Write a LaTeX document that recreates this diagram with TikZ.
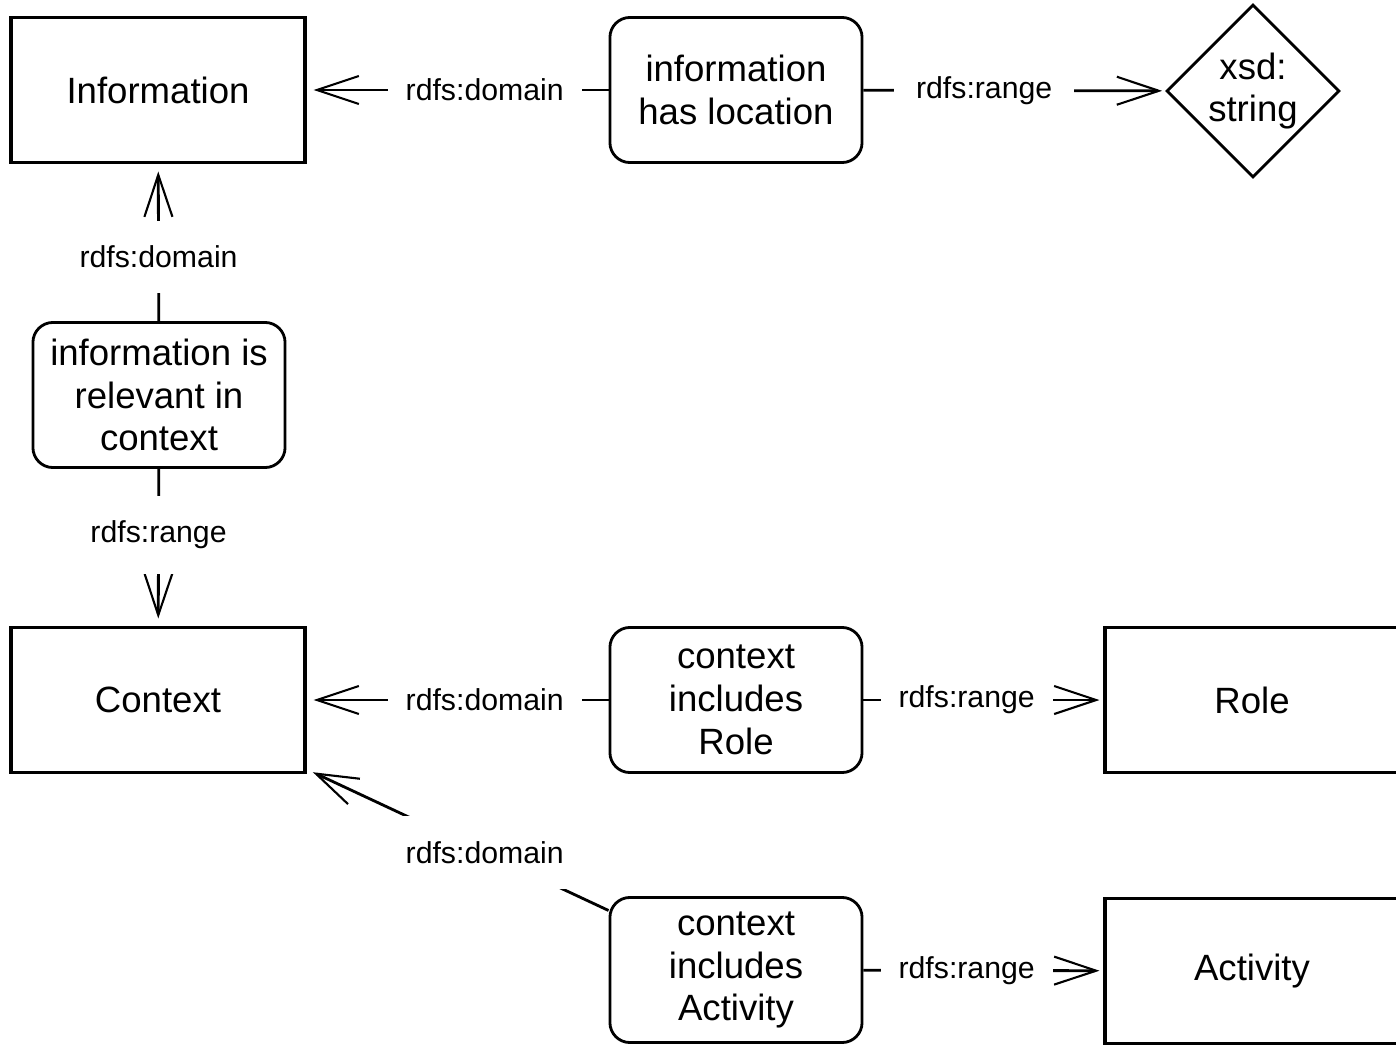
\documentclass[tikz,border=0pt]{standalone}
\usepackage{fontspec}
\setmainfont{Liberation Sans}
\usetikzlibrary{shapes.geometric,arrows.meta}

\begin{document}
\begin{tikzpicture}[x=0.01cm,y=-0.01cm,
	classbox/.style={draw=black, line width=1.1pt, minimum width=2.93cm, minimum height=1.45cm, font=\fontsize{10.4}{12.2}\selectfont},
	propbox/.style={draw=black, rounded corners=0.2cm, line width=0.8pt, minimum width=2.52cm, minimum height=1.45cm, align=center, inner sep=0pt, font=\fontsize{10.4}{12.2}\selectfont},
	litbox/.style={draw=black, diamond, aspect=1, minimum size=1.73cm, inner sep=0pt, line width=0.8pt, align=center, font=\fontsize{10.4}{12.2}\selectfont},
	rel/.style={draw=black, line width=0.8pt, -{Straight Barb[length=0.42cm,width=0.28cm,line width=0.6pt]}, shorten >=0.07cm},
	lbl/.style={fill=white, inner xsep=0.18cm, inner ysep=0.25cm, font=\fontsize{8.6}{10}\selectfont}
]
	
	%Background
	\useasboundingbox[fill=white] (0,0) rectangle (1396,1045);
	
	%Classes
	\node[classbox] (information) at (158,90) {Information};
	\node[classbox] (context) at (158,700) {Context};
	\node[classbox] (role) at (1252,700) {Role};
	\node[classbox] (activity) at (1252,971) {Activity};
	
	%Literal
	\node[litbox] (xsdstring) at (1253,91) {xsd:\\string};
	
	%Properties
	\node[propbox] (haslocation) at (736,90) {information\\has location};
	\node[propbox] (isrelevant) at (159,395) {information is\\relevant in\\context};
	\node[propbox] (includesrole) at (736,700) {context\\includes\\Role};
	\node[propbox] (includesactivity) at (736,970) {context\\includes\\Activity};
	
	%Domains
	\draw[rel] (haslocation) -- node[lbl, pos=0.41] (dom1) {rdfs:domain} (information);
	\draw[rel] (isrelevant) -- node[lbl, pos=0.41] (dom2) {rdfs:domain} (information);
	\draw[rel] (includesrole) -- node[lbl, pos=0.41] (dom3) {rdfs:domain} (context);
	\draw[rel] (includesactivity) -- node[lbl, pos=0.41] (dom4) {rdfs:domain} (context);
	
	%Ranges
	\draw[rel, shorten >=0.03cm] (haslocation) -- node[lbl, pos=0.4, inner xsep=0.22cm] (rng1) {rdfs:range} (xsdstring);
	\draw[rel] (isrelevant) -- node[lbl, pos=0.42] (rng2) {rdfs:range} (context);
	\draw[rel, shorten >=0.04cm] (includesrole) -- node[lbl, pos=0.43] (rng3) {rdfs:range} (role);
	\draw[rel, shorten >=0.04cm] (includesactivity) -- node[lbl, pos=0.43] (rng4) {rdfs:range} (activity);
	
\end{tikzpicture}
\end{document}
